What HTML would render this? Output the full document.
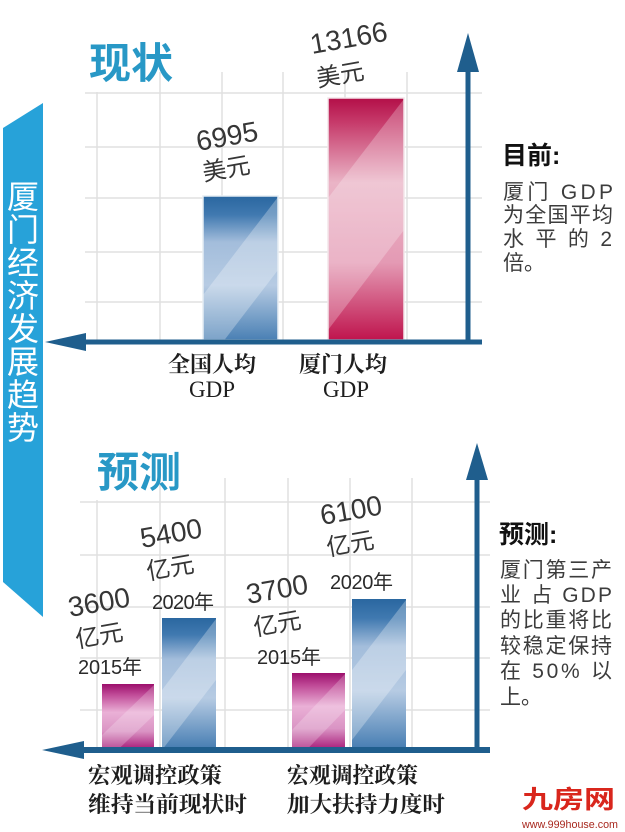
<!DOCTYPE html>
<html>
<head>
<meta charset="utf-8">
<style>
html,body{margin:0;padding:0;background:#fff;}
svg{display:block;}
.num{font-family:"Liberation Sans","Noto Sans CJK SC",sans-serif;font-size:28px;fill:#363636;}
.unit{font-family:"Liberation Sans","Noto Sans CJK SC",sans-serif;font-size:24px;fill:#363636;}
.yr{font-family:"Liberation Sans","Noto Sans CJK SC",sans-serif;font-size:20px;fill:#2a2a2a;}
.title{font-family:"Liberation Sans","Noto Sans CJK SC",sans-serif;font-size:42px;font-weight:bold;fill:#2898c6;}
.ban{font-family:"Liberation Sans","Noto Sans CJK SC",sans-serif;font-size:32px;fill:#fff;}
.xl{font-family:"Liberation Serif","Noto Serif CJK SC",serif;font-size:22px;font-weight:bold;fill:#1e1e1e;}
.gdp{font-family:"Liberation Serif","Noto Serif CJK SC",serif;font-size:23px;fill:#1e1e1e;}
.rh{font-family:"Liberation Sans","Noto Sans CJK SC",sans-serif;font-size:25px;font-weight:bold;fill:#111;}
.rt{font-family:"Liberation Sans","Noto Sans CJK SC",sans-serif;font-size:21px;fill:#3c3c3c;}
.wm{font-family:"Liberation Sans","Noto Sans CJK SC",sans-serif;font-size:25px;font-weight:bold;fill:#d9261c;}
.wm2{font-family:"Liberation Sans","Noto Sans CJK SC",sans-serif;font-size:11px;fill:#a8281e;}
</style>
</head>
<body>
<svg width="625" height="832" viewBox="0 0 625 832" xmlns="http://www.w3.org/2000/svg">
<defs>
<linearGradient id="gb" x1="0" y1="0" x2="0" y2="1">
<stop offset="0" stop-color="#2a67a0"/>
<stop offset="0.13" stop-color="#4079b0"/>
<stop offset="0.32" stop-color="#a3bddb"/>
<stop offset="0.62" stop-color="#b6cbe3"/>
<stop offset="1" stop-color="#4a80b4"/>
</linearGradient>
<linearGradient id="gr" x1="0" y1="0" x2="0" y2="1">
<stop offset="0" stop-color="#b30f48"/>
<stop offset="0.1" stop-color="#c63a6a"/>
<stop offset="0.35" stop-color="#eab4c6"/>
<stop offset="0.68" stop-color="#e49ab4"/>
<stop offset="1" stop-color="#bf144d"/>
</linearGradient>
<linearGradient id="gm" x1="0" y1="0" x2="0" y2="1">
<stop offset="0" stop-color="#9c0f6c"/>
<stop offset="0.18" stop-color="#c24e9a"/>
<stop offset="0.45" stop-color="#eab0d6"/>
<stop offset="0.75" stop-color="#da94c4"/>
<stop offset="1" stop-color="#ad2a82"/>
</linearGradient>
<clipPath id="c1"><rect x="203" y="196" width="75" height="144"/></clipPath>
<clipPath id="c2"><rect x="328" y="98" width="76" height="242"/></clipPath>
<clipPath id="c3"><rect x="102" y="684" width="52" height="63"/></clipPath>
<clipPath id="c4"><rect x="162" y="618" width="54" height="129"/></clipPath>
<clipPath id="c5"><rect x="292" y="673" width="53" height="74"/></clipPath>
<clipPath id="c6"><rect x="352" y="599" width="54" height="148"/></clipPath>
</defs>

<rect width="625" height="832" fill="#fff"/>

<!-- top grid -->
<g stroke="#e0e0e0" stroke-width="1.5" fill="none">
<line x1="85" y1="93" x2="482" y2="93"/>
<line x1="85" y1="147" x2="482" y2="147"/>
<line x1="85" y1="198" x2="482" y2="198"/>
<line x1="85" y1="252" x2="482" y2="252"/>
<line x1="85" y1="302" x2="482" y2="302"/>
<line x1="97" y1="92" x2="97" y2="342"/>
<line x1="160" y1="72" x2="160" y2="342"/>
<line x1="222" y1="72" x2="222" y2="342"/>
<line x1="283" y1="72" x2="283" y2="342"/>
<line x1="345" y1="72" x2="345" y2="342"/>
<line x1="407" y1="72" x2="407" y2="342"/>
</g>

<!-- bottom grid -->
<g stroke="#e0e0e0" stroke-width="1.5" fill="none">
<line x1="80" y1="502" x2="490" y2="502"/>
<line x1="80" y1="555" x2="490" y2="555"/>
<line x1="80" y1="607" x2="490" y2="607"/>
<line x1="80" y1="658" x2="490" y2="658"/>
<line x1="80" y1="710" x2="490" y2="710"/>
<line x1="97" y1="500" x2="97" y2="750"/>
<line x1="160" y1="478" x2="160" y2="750"/>
<line x1="225" y1="478" x2="225" y2="750"/>
<line x1="288" y1="478" x2="288" y2="750"/>
<line x1="350" y1="478" x2="350" y2="750"/>
<line x1="412" y1="478" x2="412" y2="750"/>
</g>

<!-- banner -->
<polygon points="3,128 43,103 43,617 3,582" fill="#27a2d9"/>
<g class="ban" text-anchor="middle">
<text x="23" y="208">厦</text>
<text x="23" y="241">门</text>
<text x="23" y="274">经</text>
<text x="23" y="307">济</text>
<text x="23" y="340">发</text>
<text x="23" y="373">展</text>
<text x="23" y="406">趋</text>
<text x="23" y="439">势</text>
</g>

<!-- titles -->
<text class="title" x="89" y="78">现状</text>
<text class="title" x="97" y="487">预测</text>

<!-- top bars -->
<g clip-path="url(#c1)">
<rect x="203" y="196" width="75" height="144" fill="url(#gb)"/>
<polygon points="278,197 278,270 203,368 203,295" fill="#ffffff" opacity="0.28"/>
</g>
<rect x="203" y="196" width="75" height="144" fill="none" stroke="#e6edf4" stroke-width="1.5"/>
<g clip-path="url(#c2)">
<rect x="328" y="98" width="76" height="242" fill="url(#gr)"/>
<polygon points="404,99 404,230 328,330 328,198" fill="#ffffff" opacity="0.25"/>
</g>
<rect x="328" y="98" width="76" height="242" fill="none" stroke="#f3e6ea" stroke-width="1.5"/>

<!-- bottom bars -->
<g clip-path="url(#c3)">
<rect x="102" y="684" width="52" height="63" fill="url(#gm)"/>
<polygon points="154,685 154,715 102,765 102,735" fill="#ffffff" opacity="0.22"/>
</g>
<g clip-path="url(#c4)">
<rect x="162" y="618" width="54" height="129" fill="url(#gb)"/>
<polygon points="216,619 216,680 162,750 162,690" fill="#ffffff" opacity="0.28"/>
</g>
<g clip-path="url(#c5)">
<rect x="292" y="673" width="53" height="74" fill="url(#gm)"/>
<polygon points="345,674 345,710 292,765 292,730" fill="#ffffff" opacity="0.22"/>
</g>
<g clip-path="url(#c6)">
<rect x="352" y="599" width="54" height="148" fill="url(#gb)"/>
<polygon points="406,600 406,670 352,740 352,670" fill="#ffffff" opacity="0.28"/>
</g>

<!-- axes -->
<g fill="#1f5e8d" stroke="none">
<rect x="80" y="339.5" width="402" height="5"/>
<polygon points="45,342 86,333 86,351"/>
<rect x="465.5" y="65" width="5" height="279"/>
<polygon points="468,33 457,72 479,72"/>
<rect x="78" y="747" width="412" height="6"/>
<polygon points="42,750 84,741 84,759"/>
<rect x="474.5" y="476" width="5" height="277"/>
<polygon points="477,443 466,480 488,480"/>
</g>

<!-- top value labels -->
<text class="num" x="198" y="151" transform="rotate(-10 198 151)">6995</text>
<text class="unit" x="204" y="181" transform="rotate(-10 204 181)">美元</text>
<text class="num" x="312" y="54" transform="rotate(-10 312 54)">13166</text>
<text class="unit" x="318" y="87" transform="rotate(-10 318 87)">美元</text>

<!-- top x labels -->
<text class="xl" x="212" y="372" text-anchor="middle">全国人均</text>
<text class="gdp" x="212" y="397" text-anchor="middle">GDP</text>
<text class="xl" x="343" y="372" text-anchor="middle">厦门人均</text>
<text class="gdp" x="346" y="397" text-anchor="middle">GDP</text>

<!-- bottom value labels -->
<text class="num" x="70" y="617" transform="rotate(-10 70 617)">3600</text>
<text class="unit" x="77" y="648" transform="rotate(-10 77 648)">亿元</text>
<text class="yr" x="78" y="674" textLength="64">2015年</text>

<text class="num" x="142" y="548" transform="rotate(-10 142 548)">5400</text>
<text class="unit" x="148" y="580" transform="rotate(-10 148 580)">亿元</text>
<text class="yr" x="152" y="609" textLength="62">2020年</text>

<text class="num" x="248" y="604" transform="rotate(-10 248 604)">3700</text>
<text class="unit" x="255" y="636" transform="rotate(-10 255 636)">亿元</text>
<text class="yr" x="257" y="664" textLength="64">2015年</text>

<text class="num" x="322" y="525" transform="rotate(-10 322 525)">6100</text>
<text class="unit" x="328" y="556" transform="rotate(-10 328 556)">亿元</text>
<text class="yr" x="330" y="589" textLength="63">2020年</text>

<!-- bottom x labels -->
<text class="xl" x="88" y="783" textLength="134" lengthAdjust="spacingAndGlyphs">宏观调控政策</text>
<text class="xl" x="88" y="812" textLength="159" lengthAdjust="spacingAndGlyphs">维持当前现状时</text>
<text class="xl" x="287" y="783" textLength="131" lengthAdjust="spacingAndGlyphs">宏观调控政策</text>
<text class="xl" x="287" y="812" textLength="158" lengthAdjust="spacingAndGlyphs">加大扶持力度时</text>

<!-- right notes top -->
<text class="rh" x="502" y="164">目前:</text>
<text class="rt" x="503" y="199" textLength="110">厦门 GDP</text>
<text class="rt" x="503" y="222" textLength="110">为全国平均</text>
<text class="rt" x="503" y="246" textLength="109">水 平 的 2</text>
<text class="rt" x="503" y="270">倍。</text>

<!-- right notes bottom -->
<text class="rh" x="499" y="543">预测:</text>
<text class="rt" x="500" y="577" textLength="112">厦门第三产</text>
<text class="rt" x="500" y="602" textLength="112">业 占 GDP</text>
<text class="rt" x="500" y="627" textLength="112">的比重将比</text>
<text class="rt" x="500" y="653" textLength="112">较稳定保持</text>
<text class="rt" x="500" y="678" textLength="112">在 50% 以</text>
<text class="rt" x="500" y="704">上。</text>

<!-- watermark -->
<text class="wm" x="522" y="808" textLength="93" lengthAdjust="spacingAndGlyphs">九房网</text>
<text class="wm2" x="522" y="828" textLength="96" lengthAdjust="spacingAndGlyphs">www.999house.com</text>
</svg>
</body>
</html>
